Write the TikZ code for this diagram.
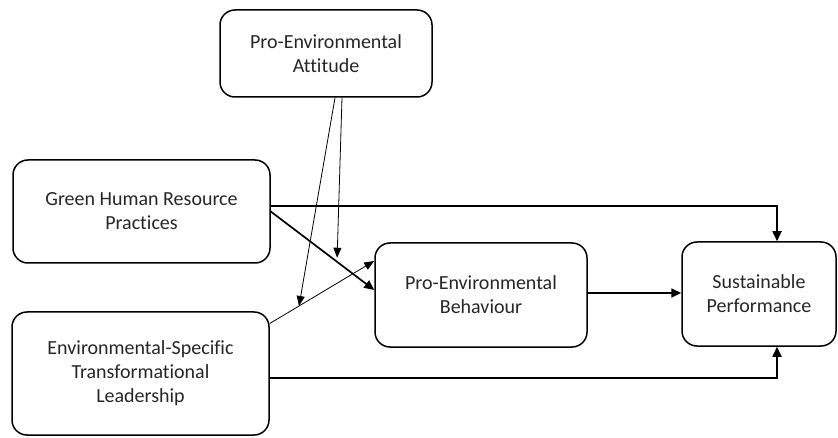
\documentclass[tikz,border=0pt]{standalone}
\usepackage{fontspec}
\setmainfont[Ligatures=NoCommon]{Carlito}
\usetikzlibrary{arrows.meta}

\begin{document}
\begin{tikzpicture}[x=1pt,y=-1pt,
  box/.style={draw, line width=1.5pt, rounded corners=15pt, align=center, inner sep=0pt, text=black!85, font=\fontsize{20}{24}\selectfont},
  link/.style={line width=1.7pt, -{Triangle[length=10pt,width=9pt]}},
  thinlink/.style={line width=0.8pt, -{Triangle[length=10pt,width=8pt]}}]
\useasboundingbox (0,0) rectangle (838,438);

\node[box, minimum width=212pt, minimum height=87pt] (att) at (326,53.5) {Pro-Environmental\\Attitude};
\node[box, minimum width=257pt, minimum height=103pt] (ghrp) at (141.5,211.5) {Green Human Resource\\Practices};
\node[box, minimum width=257pt, minimum height=123pt] (estl) at (140.5,373.5) {Environmental-Specific\\Transformational\\Leadership};
\node[box, minimum width=212pt, minimum height=104pt] (peb) at (481,295) {Pro-Environmental\\Behaviour};
\node[box, minimum width=154pt, minimum height=104pt] (sp) at (759,294) {Sustainable\\Performance};

% direct paths
\draw[link] ([yshift=5.5pt]ghrp.east) -| ([xshift=18pt]sp.north);
\draw[link] (ghrp.east) -- ([yshift=5pt]peb.west) coordinate[pos=0.64] (m1);
\draw[thinlink] ([yshift=50pt]estl.east) -- ([yshift=34pt]peb.west) coordinate[pos=0.28] (m2);
\draw[link] ([yshift=-4.5pt]estl.east) -| ([xshift=18pt]sp.south);
\draw[link] ([yshift=2pt]peb.east) -- ([yshift=1pt]sp.west);

% moderation
\draw[thinlink, shorten >=4pt] ([xshift=16pt]att.south) -- (m1);
\draw[thinlink] ([xshift=9pt]att.south) -- (m2);

\end{tikzpicture}
\end{document}
